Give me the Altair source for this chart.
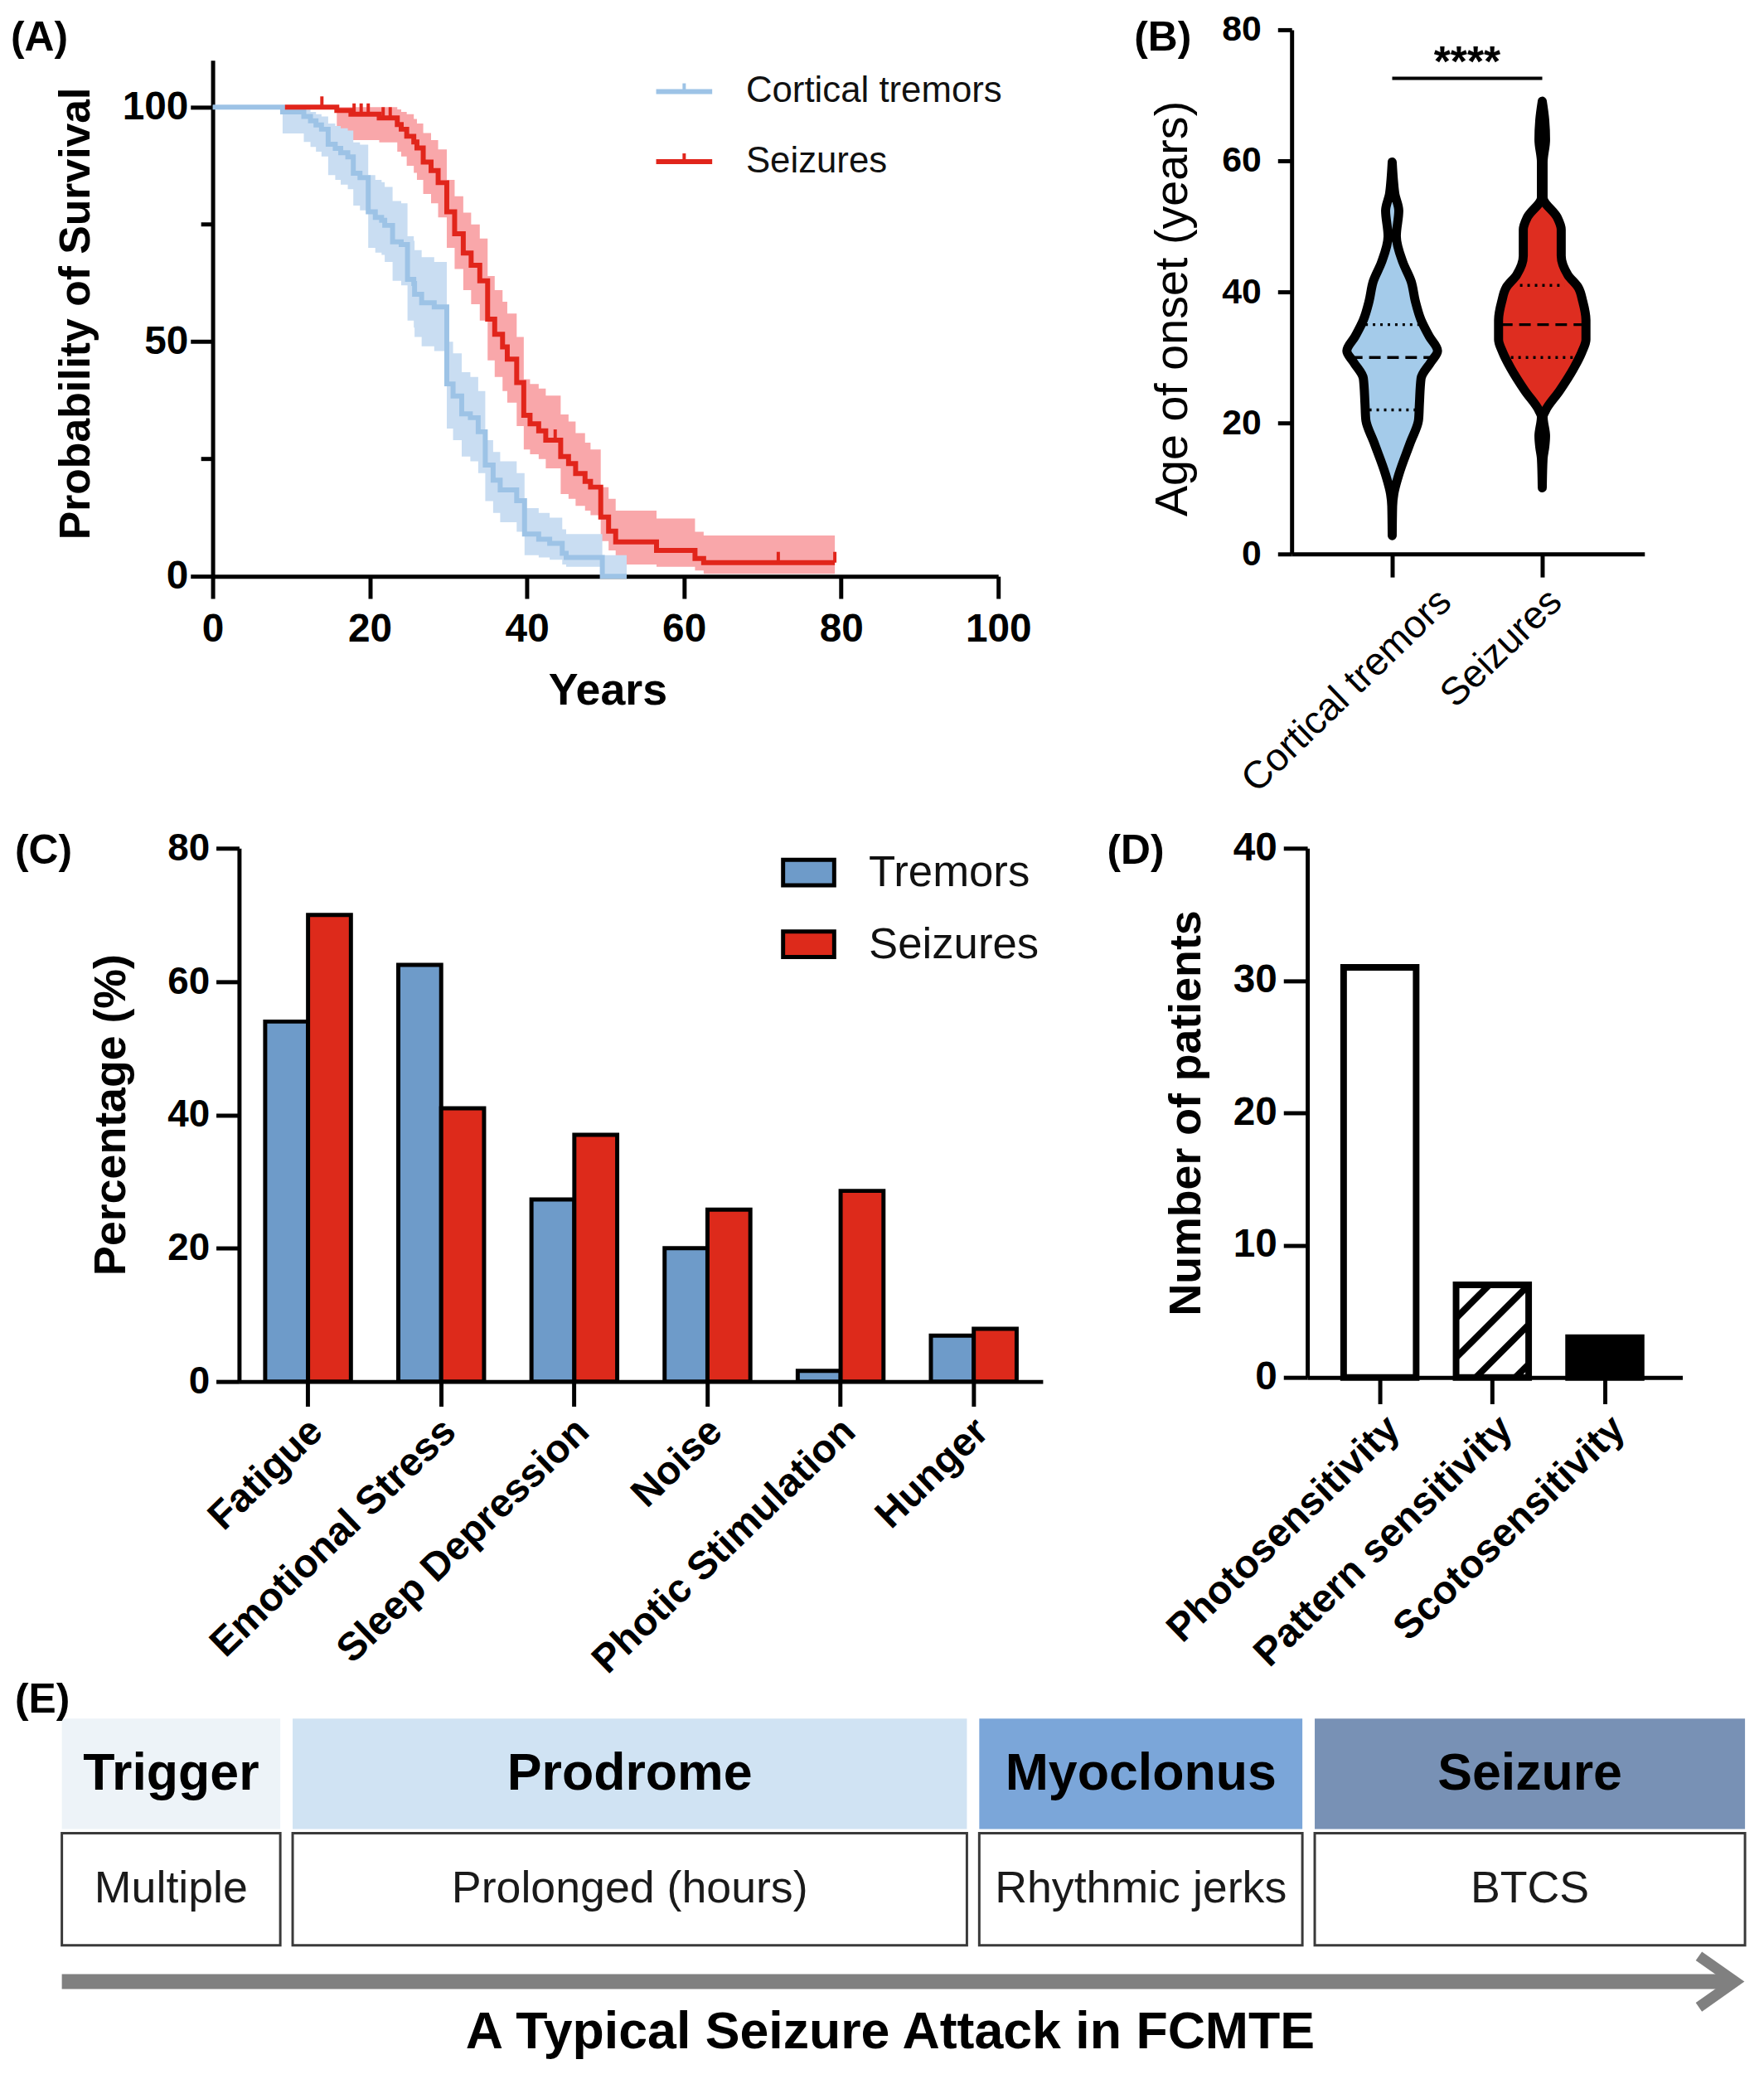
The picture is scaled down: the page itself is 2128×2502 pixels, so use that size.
import altair as alt
import numpy as np
import pandas as pd

FONT = "Liberation Sans"

# ================= (A) Kaplan-Meier survival =================
tremor_t = [0, 8.9, 11.6, 12.45, 13.15, 13.85, 14.7, 15.6, 16.3, 17.2, 17.9, 18.75,
            19.8, 20.7, 21.5, 21.9, 22.9, 24.0, 24.8, 25.6, 25.7, 26.6, 28.2, 29.8,
            30.6, 31.7, 32.8, 33.8, 34.7, 35.7, 36.6, 38.7, 39.7, 41.5, 42.9, 44.5,
            45.0, 49.6, 52.7]
tremor_s = [100, 99.0, 98.0, 97.1, 96.2, 95.3, 92.1, 91.2, 90.3, 89.4, 85.9, 85.0,
            77.7, 76.5, 75.9, 74.8, 71.3, 70.7, 63.3, 62.4, 60.1, 58.3, 57.4, 41.0,
            38.4, 34.6, 33.8, 30.8, 23.7, 20.5, 18.4, 16.1, 9.0, 7.9, 7.0, 4.9,
            4.0, 0.0, 0.0]
tremor_lo = [100, 94.4, 92.6, 91.5, 90.5, 89.5, 85.5, 84.5, 83.5, 82.5, 79.0, 78.0,
             70.0, 69.0, 68.5, 67.0, 63.0, 62.0, 54.5, 53.0, 51.0, 49.0, 48.0, 31.5,
             29.0, 25.5, 24.5, 22.0, 16.0, 13.5, 11.5, 9.5, 4.5, 4.0, 3.5, 2.5,
             2.0, 0.0, 0.0]
tremor_hi = [100, 100, 99.5, 99.0, 98.5, 98.0, 96.5, 96.0, 95.5, 95.0, 92.5, 92.0,
             85.5, 84.5, 84.0, 83.0, 80.0, 79.5, 72.5, 71.5, 69.5, 68.0, 67.0, 50.0,
             47.5, 43.5, 42.5, 39.5, 29.0, 26.5, 24.5, 22.0, 14.5, 13.5, 12.5, 10.0,
             9.0, 4.5, 4.5]

seizure_t = [9.2, 15.8, 17.6, 21.2, 23.5, 24.0, 24.7, 25.6, 26.0, 26.8, 27.8, 28.7,
             29.8, 30.8, 31.9, 32.9, 34.0, 35.0, 35.9, 36.9, 37.5, 38.7, 39.6, 40.4,
             41.5, 42.4, 44.3, 45.3, 46.2, 47.4, 48.1, 49.4, 50.4, 51.3, 56.5, 61.4,
             62.5, 79.2]
seizure_s = [100, 99.3, 98.5, 97.7, 96.3, 95.3, 93.8, 92.6, 91.3, 88.3, 86.5, 83.9,
             77.7, 73.0, 68.9, 66.3, 63.0, 54.8, 51.6, 48.9, 46.3, 41.3, 34.3, 32.5,
             31.0, 29.0, 25.5, 24.0, 21.9, 20.2, 19.0, 12.6, 9.6, 7.3, 5.5, 3.8,
             2.9, 2.9]
seizure_lo = [100, 93.3, 93.0, 92.5, 90.5, 89.5, 87.5, 86.0, 84.5, 81.5, 79.5, 76.5,
              70.0, 65.5, 61.0, 58.0, 54.5, 46.0, 42.5, 39.5, 37.0, 32.0, 27.0, 26.0,
              25.0, 23.0, 17.5, 16.5, 15.0, 14.0, 13.0, 7.5, 5.5, 2.5, 2.0, 1.2,
              0.5, 0.5]
seizure_hi = [100, 100, 100, 100, 99.5, 99.0, 98.5, 97.5, 96.5, 94.5, 93.0, 91.0,
              84.5, 81.0, 77.5, 75.0, 72.0, 64.0, 61.0, 58.5, 56.0, 51.0, 42.0, 41.0,
              40.0, 38.5, 34.5, 33.0, 30.5, 28.5, 27.0, 19.0, 16.5, 14.0, 12.3, 9.5,
              8.7, 8.7]
seizure_censor_t = [13.9, 18.0, 18.9, 19.8, 21.7, 22.6, 43.6, 72.0, 79.2]
km_labels = ["Cortical tremors", "Seizures"]
A_x_ticks = [0, 20, 40, 60, 80, 100]
A_y_ticks = [0, 50, 100]
A_minor_ticks = [25, 75]

# ================= (B) Age of onset violins =================
onset_groups = ["Cortical tremors", "Seizures"]
tremor_age = [2.8, 7.3, 9.2, 12.1, 17.0, 20.5, 22.9, 26.8, 29.3, 31.0, 33.2, 35.7,
              38.6, 41.6, 44.5, 48.5, 52.4, 54.9, 57.0, 59.8]
tremor_width = [0, 0.5, 2, 8, 22, 32, 33, 35, 47, 55, 45, 35, 28, 23, 13, 5, 8, 3.3, 1.5, 0]
seizure_age = [10.1, 14.6, 16.3, 18.0, 20.9, 21.9, 24.9, 28.3, 30.8, 32.7, 35.7, 38.6,
               40.6, 42.6, 45.5, 49.5, 51.4, 54.4, 59.8, 63.2, 66.2, 69.1]
seizure_width = [0, 1, 3, 4, 1, 4, 21, 38, 48, 53, 53, 49, 44, 31, 23, 23, 18, 1, 1, 4, 3, 0]
tremor_quartiles = [22, 30, 35]
tremor_quart_width = [28, 50, 32.5]
seizure_quartiles = [30, 35, 41]
seizure_quart_width = [47, 50, 27]
B_y_ticks = [0, 20, 40, 60, 80]
sig_level = 72.6
sig_text = "****"

# ================= (C) Triggers =================
trigger_cats = ["Fatigue", "Emotional Stress", "Sleep Depression", "Noise",
                "Photic Stimulation", "Hunger"]
trigger_series = ["Tremors", "Seizures"]
tremor_pct = [54.0, 62.5, 27.3, 20.0, 1.6, 6.9]
seizure_pct = [70.0, 41.0, 37.0, 25.8, 28.6, 7.9]
C_y_ticks = [0, 20, 40, 60, 80]

# ================= (D) Sensitivities =================
sens_cats = ["Photosensitivity", "Pattern sensitivity", "Scotosensitivity"]
sens_counts = [31, 7, 3]
D_y_ticks = [0, 10, 20, 30, 40]

# ================= (E) Typical attack =================
stages = ["Trigger", "Prodrome", "Myoclonus", "Seizure"]
stage_desc = ["Multiple", "Prolonged (hours)", "Rhythmic jerks", "BTCS"]
stage_span = [265, 818, 392, 522]
stage_colors = ["#EDF3F8", "#D0E3F3", "#7BA6D9", "#7891B5"]
E_caption = "A Typical Seizure Attack in FCMTE"

# ---------------- colours ----------------
BLUE_LINE, BLUE_BAND = "#9DC3E6", "#C9DDF2"
RED_LINE, RED_BAND = "#E1251B", "#F9A7AA"
VIO_BLUE, VIO_RED = "#A4CBEA", "#DE2D20"
C_BLUE, C_RED = "#6E9BC9", "#DD2A1B"


def AX(**kw):
    base = dict(domainColor="black", domainWidth=5, tickColor="black", tickWidth=5,
                labelColor="black", titleColor="black", labelFont=FONT, titleFont=FONT,
                grid=False, labelFlush=False, labelOverlap=False, labelLimit=1000)
    base.update(kw)
    return alt.Axis(**base)


def label_chart(txt, x, y):
    return alt.Chart(pd.DataFrame({"t": [txt]})).mark_text(
        align="left", baseline="middle", fontSize=50, fontWeight="bold", font=FONT, color="black"
    ).encode(text="t:N", x=alt.value(x), y=alt.value(y))


one = pd.DataFrame({"k": [0]})

# ======================= Panel A =======================
A_W, A_H = 953, 670
A_BOT, A_TOP = 663, 37          # pixel rows of y = 0 and y = 110
A_xs = alt.Scale(domain=[0, 100], nice=False, zero=False)
A_ys = alt.Scale(domain=[0, 110], range=[A_BOT, A_TOP], nice=False, zero=False)
A_xaxis = AX(values=A_x_ticks, title="Years", tickSize=27, labelFontSize=48, labelFontWeight="bold",
             labelPadding=14, titleFontSize=54, titleFontWeight="bold", titleX=479, titleY=139,
             titleBaseline="middle", titleAlign="center", offset=A_BOT - A_H)
A_yaxis = AX(values=A_y_ticks, title="Probability of Survival", tickSize=27, labelFontSize=48,
             labelFontWeight="bold", labelPadding=3, titleFontSize=52, titleFontWeight="bold",
             titleAngle=270, titleX=-166, titleY=344, titleBaseline="middle", titleAlign="center")

km_tremor = pd.DataFrame({"t": tremor_t, "s": tremor_s, "lo": tremor_lo, "hi": tremor_hi})
km_seiz = pd.DataFrame({"t": seizure_t, "s": seizure_s, "lo": seizure_lo, "hi": seizure_hi})


def step_value(ts, ss, t):
    i = int(np.searchsorted(ts, t, side="right")) - 1
    return ss[max(i, 0)]


cens_df = pd.DataFrame({"t": seizure_censor_t,
                        "s": [step_value(seizure_t, seizure_s, t) for t in seizure_censor_t]})
cens_df["top"] = cens_df["s"] + 2.3


def xA(f="t"):
    return alt.X(f"{f}:Q", scale=A_xs, axis=A_xaxis)


def yA(f):
    return alt.Y(f"{f}:Q", scale=A_ys, axis=A_yaxis)


A_layers = [
    alt.Chart(km_seiz).mark_area(interpolate="step-after", color=RED_BAND).encode(
        x=xA(), y=yA("lo"), y2="hi:Q"),
    alt.Chart(km_tremor).mark_area(interpolate="step-after", color=BLUE_BAND).encode(
        x=xA(), y=yA("lo"), y2="hi:Q"),
    alt.Chart(km_tremor).mark_line(interpolate="step-after", color=BLUE_LINE, strokeWidth=6).encode(
        x=xA(), y=yA("s")),
    alt.Chart(km_seiz).mark_line(interpolate="step-after", color=RED_LINE, strokeWidth=6).encode(
        x=xA(), y=yA("s")),
    alt.Chart(cens_df).mark_rule(color=RED_LINE, strokeWidth=4).encode(x=xA(), y=yA("s"), y2="top:Q"),
    alt.Chart(pd.DataFrame({"v": A_minor_ticks})).mark_rule(color="black", strokeWidth=5).encode(
        x=alt.value(-14), x2=alt.value(0), y=yA("v")),
]
for i, (lab, col) in enumerate(zip(km_labels, [BLUE_LINE, RED_LINE])):
    yv = 75 + i * 85
    A_layers.append(alt.Chart(one).mark_rule(color=col, strokeWidth=6).encode(
        x=alt.value(538), x2=alt.value(606), y=alt.value(yv)))
    A_layers.append(alt.Chart(one).mark_rule(color=col, strokeWidth=4).encode(
        x=alt.value(572), y=alt.value(yv - 10), y2=alt.value(yv)))
    A_layers.append(alt.Chart(pd.DataFrame({"t": [lab]})).mark_text(
        align="left", baseline="middle", fontSize=44, font=FONT, color="#111").encode(
        text="t:N", x=alt.value(647), y=alt.value(yv)))
A_layers.append(label_chart("(A)", -245, 10))
panelA = alt.layer(*A_layers).properties(width=A_W, height=A_H)

# ======================= Panel B =======================
B_W, B_H = 428, 636
B_PX = 182.0
B_xs = alt.Scale(domain=[-0.670, 1.681], nice=False, zero=False)
B_ys = alt.Scale(domain=[0, 80], nice=False, zero=False)
B_label_expr = "datum.value == 0 ? '%s' : '%s'" % (onset_groups[0], onset_groups[1])
B_xaxis = AX(values=[0, 1], labelExpr=B_label_expr, title=None, tickSize=28, labelAngle=316,
             labelFontSize=47, labelFontWeight="normal", labelPadding=6,
             labelOffset={"condition": {"test": "datum.value == 0", "value": 48}, "value": 0})
B_yaxis = AX(values=B_y_ticks, title="Age of onset (years)", tickSize=17, labelPadding=20,
             labelFontSize=43, labelFontWeight="bold", titleFontSize=56, titleFontWeight="normal",
             titleAngle=270, titleX=-144, titleY=338, titleBaseline="middle", titleAlign="center")


def xB(f):
    return alt.X(f"{f}:Q", scale=B_xs, axis=B_xaxis)


def yB(f):
    return alt.Y(f"{f}:Q", scale=B_ys, axis=B_yaxis)


vio_rows, q_rows = [], []
for gi, (ages, wids, qs, qw) in enumerate([
        (tremor_age, tremor_width, tremor_quartiles, tremor_quart_width),
        (seizure_age, seizure_width, seizure_quartiles, seizure_quart_width)]):
    for a, w in zip(ages, wids):
        vio_rows.append({"g": onset_groups[gi], "age": a, "left": gi - w / B_PX, "right": gi + w / B_PX})
    for k, (q, w) in enumerate(zip(qs, qw)):
        q_rows.append({"g": onset_groups[gi], "v": q, "left": gi - w / B_PX, "right": gi + w / B_PX,
                       "kind": "median" if k == 1 else "quartile"})
vio_df = pd.DataFrame(vio_rows).sort_values(["g", "age"])
q_df = pd.DataFrame(q_rows)

B_layers = []
for gi, col in enumerate([VIO_BLUE, VIO_RED]):
    B_layers.append(alt.Chart(vio_df[vio_df.g == onset_groups[gi]]).mark_area(
        orient="horizontal", interpolate="monotone", fill=col, stroke="black", strokeWidth=11,
        strokeJoin="round").encode(y=yB("age"), x=xB("left"), x2="right:Q"))
B_layers.append(alt.Chart(q_df[q_df.kind == "median"]).mark_rule(
    color="black", strokeWidth=3.5, strokeDash=[14, 8]).encode(x=xB("left"), x2="right:Q", y=yB("v")))
B_layers.append(alt.Chart(q_df[q_df.kind == "quartile"]).mark_rule(
    color="black", strokeWidth=3.5, strokeDash=[3, 6]).encode(x=xB("left"), x2="right:Q", y=yB("v")))
sig_df = pd.DataFrame({"a": [0], "b": [1], "y": [sig_level], "mid": [0.5], "t": [sig_text]})
B_layers.append(alt.Chart(sig_df).mark_rule(color="black", strokeWidth=4).encode(
    x=xB("a"), x2="b:Q", y=yB("y")))
B_layers.append(alt.Chart(sig_df).mark_text(
    fontSize=52, fontWeight="bold", font=FONT, baseline="alphabetic", align="center", dy=-2).encode(
    x=xB("mid"), y=yB("y"), text="t:N"))
B_layers.append(label_chart("(B)", -191, 10))
panelB = alt.layer(*B_layers).properties(width=B_W, height=B_H)

# ======================= Panel C =======================
C_W, C_H = 1007, 647
c_rows = []
for i, cat in enumerate(trigger_cats):
    c_rows.append({"cat": cat, "series": trigger_series[0], "pct": tremor_pct[i]})
    c_rows.append({"cat": cat, "series": trigger_series[1], "pct": seizure_pct[i]})
c_df = pd.DataFrame(c_rows)
C_xs = alt.Scale(domain=trigger_cats, range=[32, C_W], paddingInner=0.356, paddingOuter=0.196)
C_ys = alt.Scale(domain=[0, 80], nice=False, zero=True)
C_xaxis = AX(title=None, tickSize=30, labelAngle=316, labelFontSize=48, labelFontWeight="bold",
             labelPadding=6, labelOffset=-6)
C_yaxis = AX(values=C_y_ticks, offset=-32, title="Percentage (%)", tickSize=28, labelPadding=8,
             labelFontSize=46, labelFontWeight="bold", titleFontSize=54, titleFontWeight="bold",
             titleAngle=270, titleX=-155, titleY=323, titleBaseline="middle", titleAlign="center")
C_layers = [
    alt.Chart(c_df).mark_bar(stroke="black", strokeWidth=5).encode(
        x=alt.X("cat:N", scale=C_xs, axis=C_xaxis),
        xOffset=alt.XOffset("series:N", scale=alt.Scale(domain=trigger_series, paddingInner=0, paddingOuter=0)),
        y=alt.Y("pct:Q", scale=C_ys, axis=C_yaxis),
        fill=alt.Fill("series:N", scale=alt.Scale(domain=trigger_series, range=[C_BLUE, C_RED]), legend=None))
]
for i, (lab, col) in enumerate(zip(trigger_series, [C_BLUE, C_RED])):
    y0 = 14 + i * 87
    C_layers.append(alt.Chart(one).mark_rect(fill=col, stroke="black", strokeWidth=5).encode(
        x=alt.value(692), x2=alt.value(754), y=alt.value(y0), y2=alt.value(y0 + 31)))
    C_layers.append(alt.Chart(pd.DataFrame({"t": [lab]})).mark_text(
        align="left", baseline="middle", fontSize=53, font=FONT, color="#111").encode(
        text="t:N", x=alt.value(796), y=alt.value(y0 + 16)))
C_layers.append(label_chart("(C)", -240, 4))
panelC = alt.layer(*C_layers).properties(width=C_W, height=C_H)

# ======================= Panel D =======================
D_SHIFT = 19
D_W, D_H = 455 + D_SHIFT, 642
D_lo, D_hi = -0.645, 2.689
D_xs = alt.Scale(domain=[D_lo, D_hi], range=[D_SHIFT, D_W], nice=False, zero=False)
D_ys = alt.Scale(domain=[0, 40], nice=False, zero=True)
HALF = 0.3225
d_df = pd.DataFrame({"cat": sens_cats, "n": sens_counts, "idx": list(range(len(sens_cats)))})
d_df["x0"] = d_df["idx"] - HALF
d_df["x1"] = d_df["idx"] + HALF
D_label_expr = "[" + ",".join("'%s'" % c for c in sens_cats) + "][datum.value]"
D_xaxis = AX(values=[0, 1, 2], labelExpr=D_label_expr, title=None, tickSize=32, labelAngle=316,
             labelFontSize=48, labelFontWeight="bold", labelPadding=6)
D_yaxis = AX(values=D_y_ticks, offset=-D_SHIFT, title="Number of patients", tickSize=29, labelPadding=8,
             labelFontSize=48, labelFontWeight="bold", titleFontSize=54, titleFontWeight="bold",
             titleAngle=270, titleX=-146, titleY=321, titleBaseline="middle", titleAlign="center")


def xD(f):
    return alt.X(f"{f}:Q", scale=D_xs, axis=D_xaxis)


def yD(f):
    return alt.Y(f"{f}:Q", scale=D_ys, axis=D_yaxis)


# diagonal hatching of the "Pattern sensitivity" bar, clipped to the bar outline
px_x = (D_W - D_SHIFT) / (D_hi - D_lo)
px_y = D_H / 40.0
hat_rows = []
hb = d_df.iloc[1]
Wp, Hp = 2 * HALF * px_x, hb["n"] * px_y
for c in [72, 24, -24, -72]:
    xs0 = max(0.0, -c)
    xs1 = min(Wp, Hp - c)
    if xs1 <= xs0:
        continue
    hat_rows.append({"x": hb["x0"] + xs0 / px_x, "x2": hb["x0"] + xs1 / px_x,
                     "y": (xs0 + c) / px_y, "y2": (xs1 + c) / px_y})
hat_df = pd.DataFrame(hat_rows)
d_fill = {"Photosensitivity": "white", "Pattern sensitivity": "white", "Scotosensitivity": "black"}

D_layers = []
for cat in sens_cats:
    D_layers.append(alt.Chart(d_df[d_df.cat == cat]).mark_rect(fill=d_fill[cat], strokeWidth=0).encode(
        x=xD("x0"), x2="x1:Q", y=yD("n"), y2=alt.datum(0)))
D_layers += [
    alt.Chart(hat_df).mark_rule(color="black", strokeWidth=8).encode(
        x=xD("x"), x2="x2:Q", y=yD("y"), y2="y2:Q"),
    alt.Chart(d_df).mark_rect(stroke="black", strokeWidth=8, fillOpacity=0).encode(
        x=xD("x0"), x2="x1:Q", y=yD("n"), y2=alt.datum(0)),
    label_chart("(D)", -243 + D_SHIFT, 4),
]
panelD = alt.layer(*D_layers).properties(width=D_W, height=D_H)

# ======================= Panel E =======================
E_W, E_H = 1007, 498
GAP = 15
total = sum(stage_span) + GAP * (len(stage_span) - 1)
E_xs = alt.Scale(domain=[0, total], range=[-183, -183 + total], nice=False, zero=False)
E_ys = alt.Scale(domain=[0, E_H], range=[0, E_H], nice=False, zero=False)
HEAD_TOP, HEAD_BOT, BOX_TOP, BOX_BOT = 86, 220, 225, 361
x0s = list(np.cumsum([0] + [s + GAP for s in stage_span[:-1]]))
e_df = pd.DataFrame({"stage": stages, "desc": stage_desc, "color": stage_colors,
                     "x0": x0s, "x1": [a + s for a, s in zip(x0s, stage_span)]})
e_df["xc"] = (e_df["x0"] + e_df["x1"]) / 2
e_df["h0"], e_df["h1"], e_df["b0"], e_df["b1"] = HEAD_TOP, HEAD_BOT, BOX_TOP, BOX_BOT
e_df["hc"] = (HEAD_TOP + HEAD_BOT) / 2
e_df["bc"] = (BOX_TOP + BOX_BOT) / 2
ARROW_Y = 405
arrow_df = pd.DataFrame({"x": [0], "x2": [total - 22], "y": [ARROW_Y]})
chev_df = pd.DataFrame({"x": [total - 56, total - 12, total - 56],
                        "y": [ARROW_Y - 31, ARROW_Y, ARROW_Y + 31], "o": [0, 1, 2]})
cap_df = pd.DataFrame({"x": [1005], "y": [467], "t": [E_caption]})


def ex(f):
    return alt.X(f"{f}:Q", scale=E_xs, axis=None)


def ey(f):
    return alt.Y(f"{f}:Q", scale=E_ys, axis=None)


E_layers = []
for i in range(len(stages)):
    E_layers.append(alt.Chart(e_df.iloc[[i]]).mark_rect(fill=stage_colors[i]).encode(
        x=ex("x0"), x2="x1:Q", y=ey("h0"), y2="h1:Q"))
E_layers += [
    alt.Chart(e_df).mark_text(fontSize=63, fontWeight="bold", font=FONT, color="black",
                              baseline="middle").encode(x=ex("xc"), y=ey("hc"), text="stage:N"),
    alt.Chart(e_df).mark_rect(fill="white", stroke="#3a3a3a", strokeWidth=3).encode(
        x=ex("x0"), x2="x1:Q", y=ey("b0"), y2="b1:Q"),
    alt.Chart(e_df).mark_text(fontSize=54, font=FONT, color="#1a1a1a", baseline="middle").encode(
        x=ex("xc"), y=ey("bc"), text="desc:N"),
    alt.Chart(arrow_df).mark_rule(color="#808080", strokeWidth=18).encode(x=ex("x"), x2="x2:Q", y=ey("y")),
    alt.Chart(chev_df).mark_line(color="#808080", strokeWidth=13, strokeJoin="miter").encode(
        x=ex("x"), y=ey("y"), order="o:Q"),
    alt.Chart(cap_df).mark_text(fontSize=63, fontWeight="bold", font=FONT, color="black",
                                baseline="middle").encode(x=ex("x"), y=ey("y"), text="t:N"),
    label_chart("(E)", -240, 64),
]
panelE = alt.layer(*E_layers).properties(width=E_W, height=E_H)

# ======================= assemble =======================
chart = alt.concat(panelA, panelB, panelC, panelD, panelE, columns=2, bounds="flush",
                   spacing=alt.RowColnumber(row=323, column=302)).properties(
    padding={"left": 5, "top": 0, "right": 0, "bottom": 0}
).resolve_scale(fill="independent").configure(font=FONT).configure_view(strokeWidth=0)

chart.save("out.html", embed_options={"renderer": "svg", "actions": False})
